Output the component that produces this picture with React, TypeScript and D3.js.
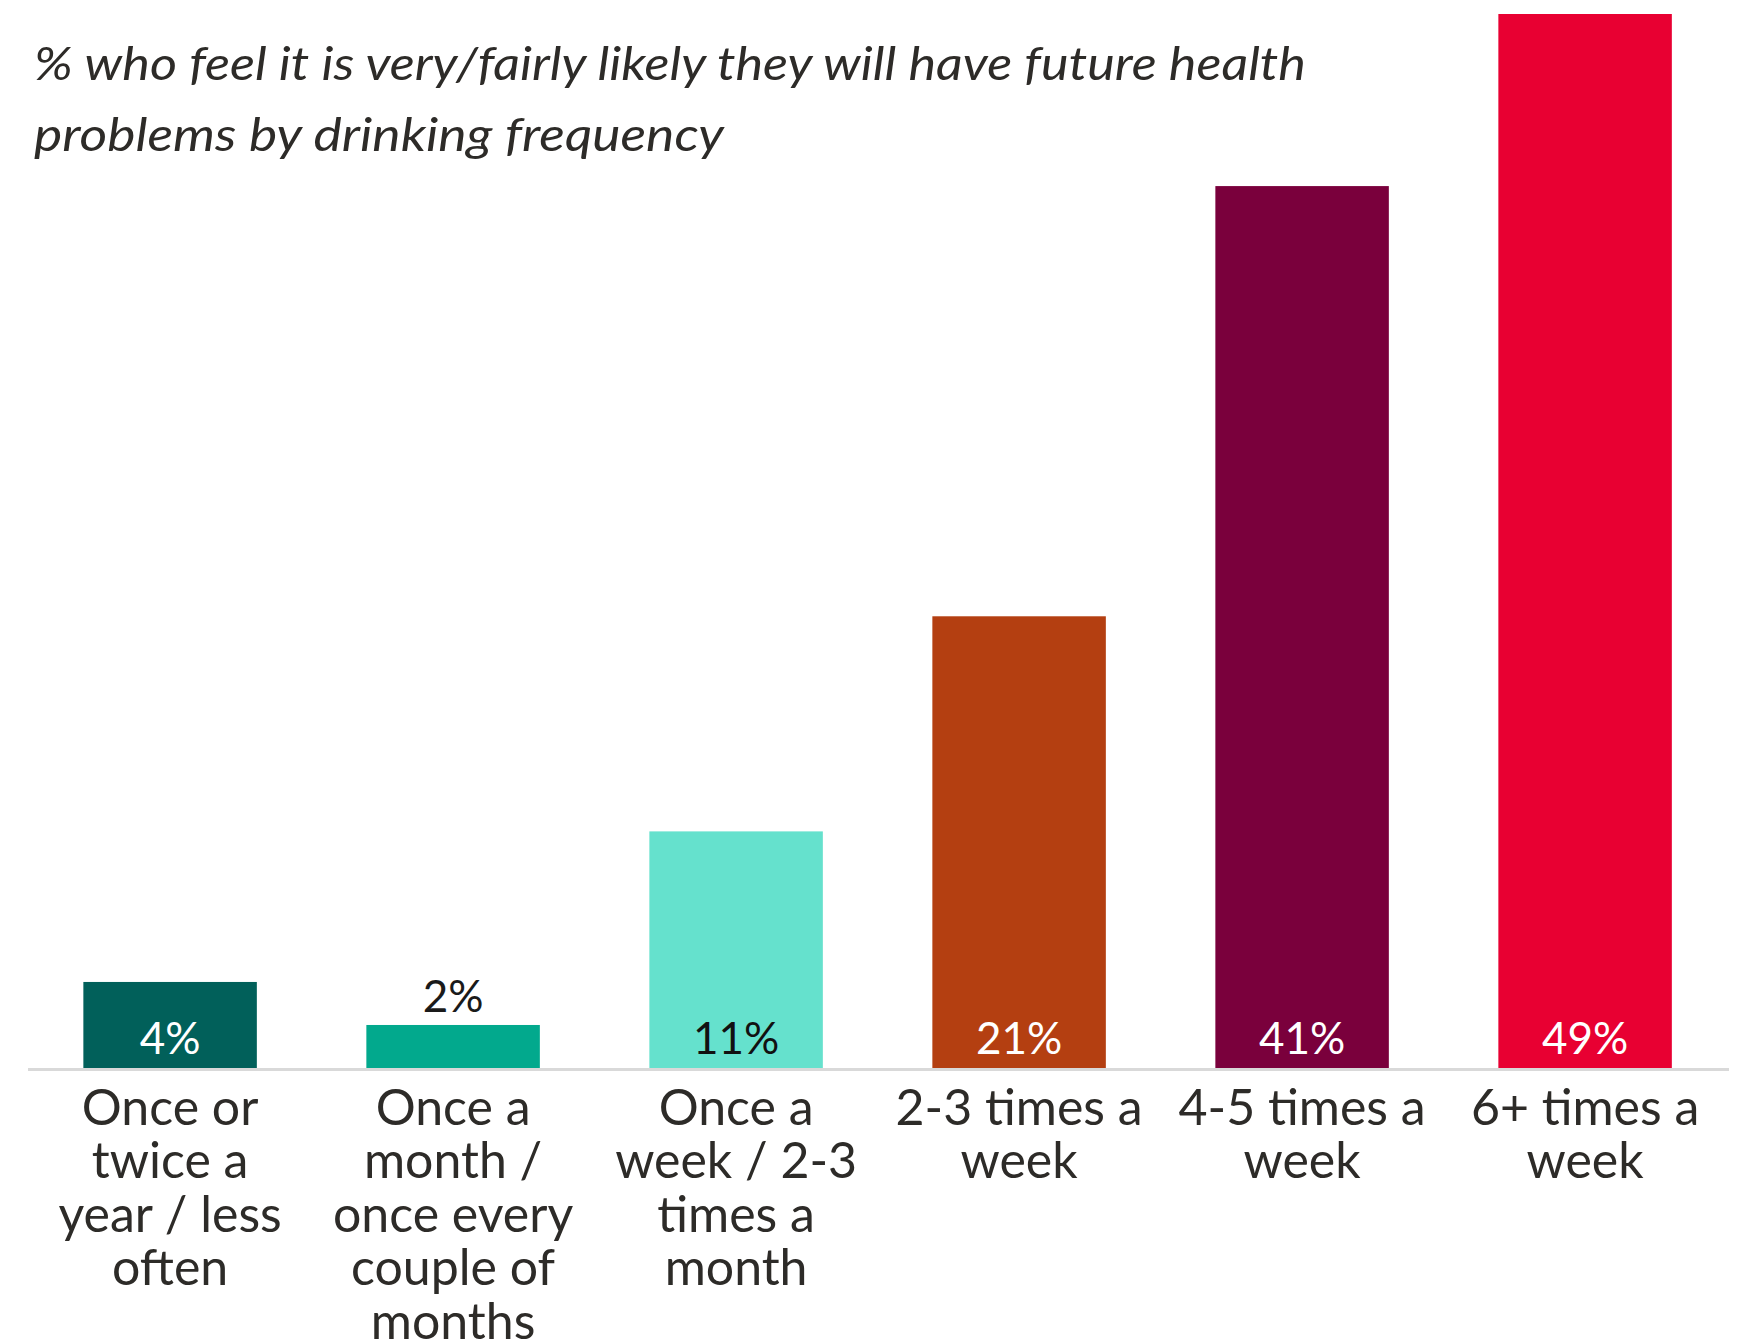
import React from "react";
import * as d3 from "d3";

const categories = ["c1", "c2", "c3", "c4", "c5", "c6"];
const categoryLines = [
  ["Once or", "twice a", "year / less", "often"],
  ["Once a", "month /", "once every", "couple of", "months"],
  ["Once a", "week / 2-3", "times a", "month"],
  ["2-3 times a", "week"],
  ["4-5 times a", "week"],
  ["6+ times a", "week"],
];
const values = [4, 2, 11, 21, 41, 49];
const valueLabels = ["4%", "2%", "11%", "21%", "41%", "49%"];
const barColors = ["#01605a", "#02a98d", "#65e1cd", "#b43f11", "#7a003c", "#e80032"];
const labelColors = ["#ffffff", "#1a1a1a", "#111111", "#ffffff", "#ffffff", "#ffffff"];
const labelInside = [true, false, true, true, true, true];
const titleLines = [
  "% who feel it is very/fairly likely they will have future health",
  "problems by drinking frequency",
];

const W = 1744;
const H = 1339;
const FONT = "Lato, 'Open Sans', sans-serif";

export default function App() {
  const x = d3
    .scaleBand<string>()
    .domain(categories)
    .range([28.6, 1726.6])
    .paddingInner(0.387)
    .paddingOuter(0.1935);
  const y = d3.scaleLinear().domain([0, 49]).range([1068, 14]);
  const base = y(0);

  return (
    <svg
      width={W}
      height={H}
      style={{ position: "absolute", left: 0, top: 0, display: "block", background: "#fff" }}
    >
      {titleLines.map((t, i) => (
        <text
          key={i}
          x={34}
          y={80 + i * 71}
          fontFamily={FONT}
          fontStyle="italic"
          fontSize={46}
          fill="#2d2b28"
          textLength={i === 0 ? 1272 : 690}
          lengthAdjust="spacingAndGlyphs"
        >
          {t}
        </text>
      ))}
      {categories.map((c, i) => (
        <rect
          key={c}
          x={x(c)}
          y={y(values[i])}
          width={x.bandwidth()}
          height={base - y(values[i])}
          fill={barColors[i]}
        />
      ))}
      <line x1={28} x2={1729} y1={base + 1.5} y2={base + 1.5} stroke="#d9d9d9" strokeWidth={3} />
      {categories.map((c, i) => {
        const cx = (x(c) as number) + x.bandwidth() / 2;
        const yy = labelInside[i] ? base - 14 : y(values[i]) - 13;
        return (
          <text
            key={"v" + c}
            x={cx}
            y={yy}
            textAnchor="middle"
            fontFamily={FONT}
            fontSize={44}
            fill={labelColors[i]}
          >
            {valueLabels[i]}
          </text>
        );
      })}
      {categories.map((c, i) => {
        const cx = (x(c) as number) + x.bandwidth() / 2;
        return (
          <text
            key={"l" + c}
            textAnchor="middle"
            fontFamily={FONT}
            fontSize={50}
            fill="#2d2b28"
          >
            {categoryLines[i].map((ln, j) => (
              <tspan key={j} x={cx} y={1125 + j * 53.4}>
                {ln}
              </tspan>
            ))}
          </text>
        );
      })}
    </svg>
  );
}
